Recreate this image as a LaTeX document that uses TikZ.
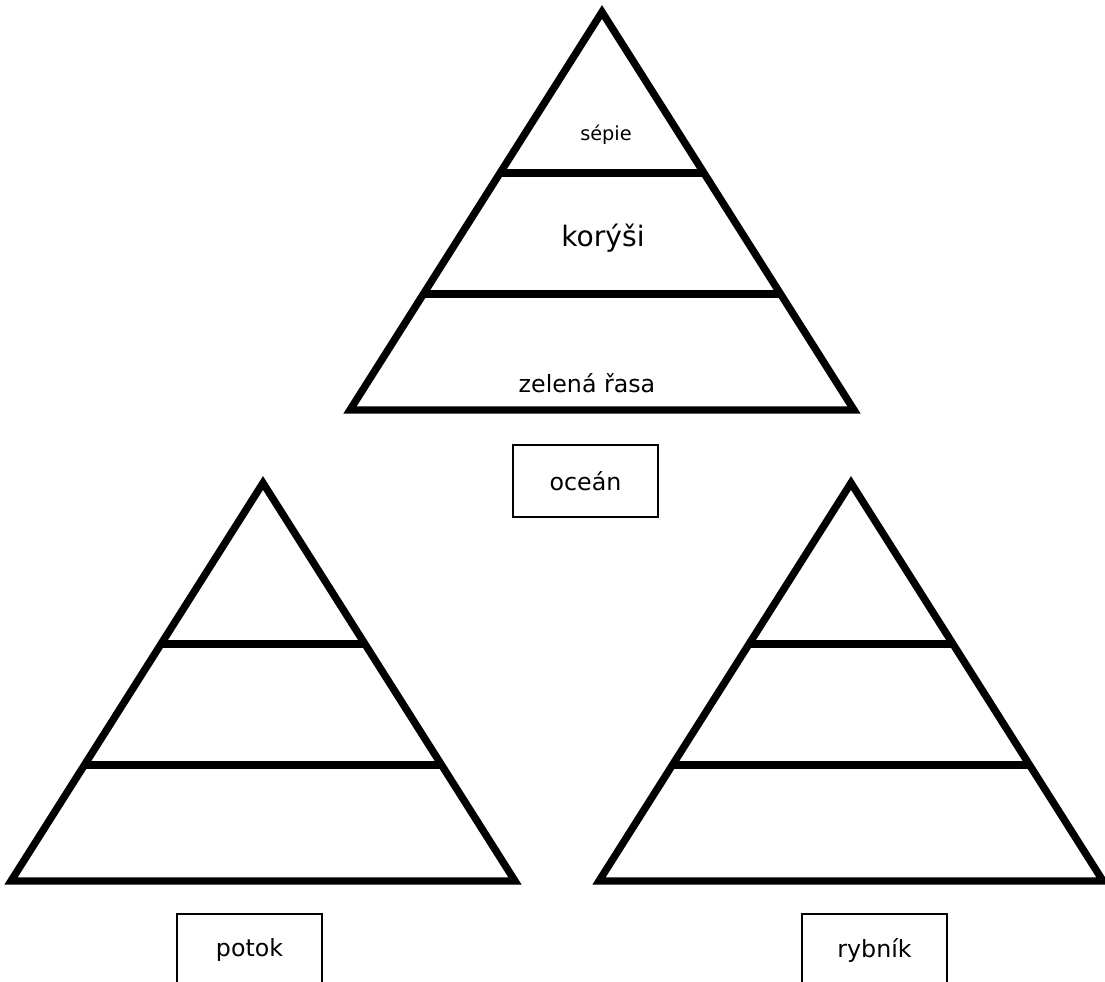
\documentclass[tikz,border=0pt]{standalone}
\usepackage{fontspec}
\setmainfont{DejaVu Sans}
\usetikzlibrary{positioning}

\begin{document}
\begin{tikzpicture}[
    layer/.style={
        draw=black, line width=4.2pt
    },
    label/.style={
        font=\fontsize{13.5}{16}\selectfont
    },
    habitat/.style={
        rectangle,
        draw=black, line width=1.2pt,
        minimum width=2.9cm,
        minimum height=1.44cm,
        font=\fontsize{13.5}{16}\selectfont
    }
]
\useasboundingbox (0,0) rectangle (22.1,19.64);

% Pyramids
\foreach \name/\x/\y in {ocean/12.04/19.40, potok/5.26/9.98, rybnik/17.02/9.98} {
    \coordinate (\name-top) at (\x,\y);
    \draw[layer] (\name-top) -- ++(-5.04,-7.96) -- ++(10.08,0) -- cycle;
    \draw[layer] (\name-top) ++(-2.04,-3.22) -- ++(4.08,0);
    \draw[layer] (\name-top) ++(-3.57,-5.64) -- ++(7.14,0);
}

% Ocean levels
\node[label,font=\fontsize{11}{13}\selectfont] (sepie) at (12.12,16.94) {sépie};
\node[label,font=\fontsize{16}{19}\selectfont] (korysi) at (12.06,14.88) {korýši};
\node[label] (rasa) at (11.74,11.98) {zelená řasa};

% Habitats
\node[habitat] (oceanbox) at (11.71,10.02) {oceán};
\node[habitat] (potokbox) at (4.99,0.64) {potok};
\node[habitat] (rybnikbox) at (17.49,0.64) {rybník};

\end{tikzpicture}
\end{document}
